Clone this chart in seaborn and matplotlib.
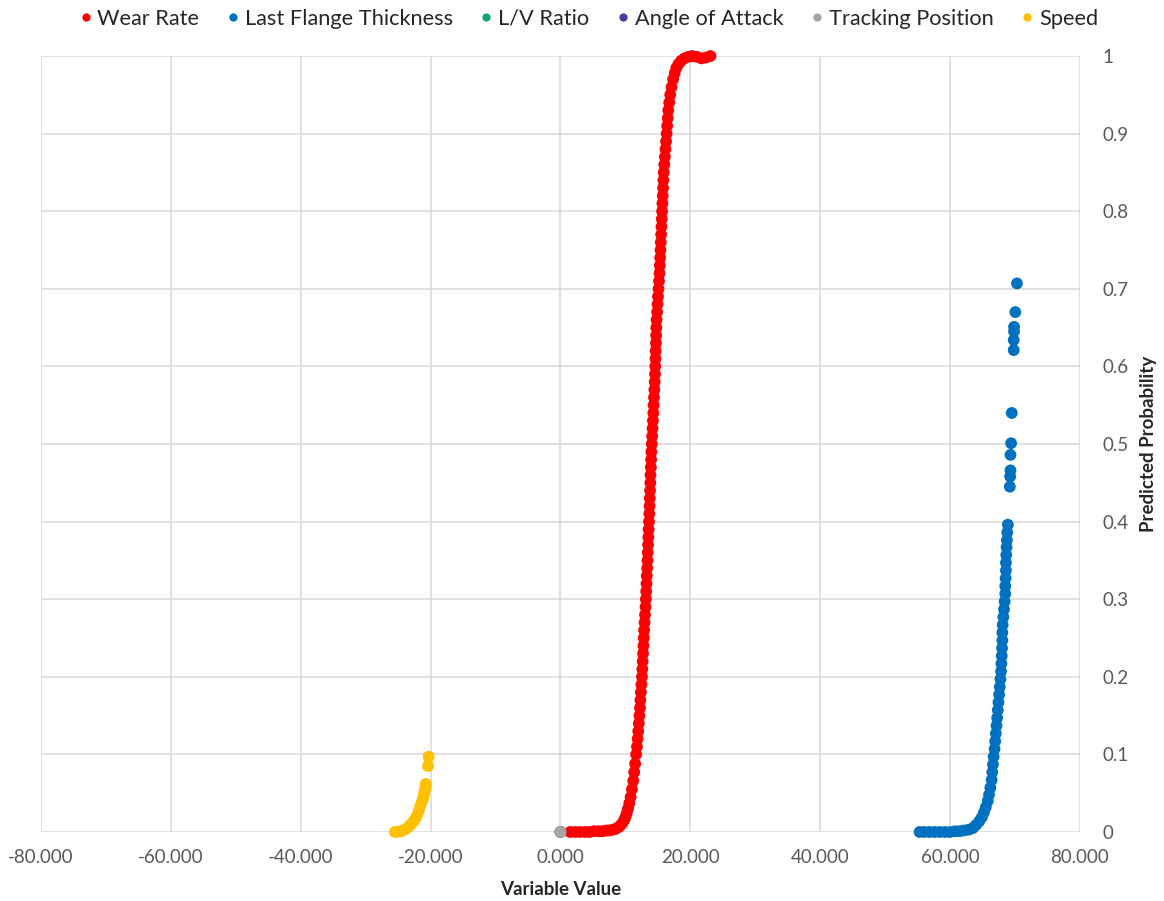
import matplotlib
matplotlib.use("Agg")
import matplotlib.pyplot as plt
import seaborn as sns
import pandas as pd
import numpy as np

# ---------------- data ----------------
series_names = ["Wear Rate", "Last Flange Thickness", "L/V Ratio",
                "Angle of Attack", "Tracking Position", "Speed"]
series_colors = ["#FF0000", "#0070C0", "#13A57A", "#4B3B9C", "#A5A5A5", "#FFC000"]

wear_x = [1.5, 2.3, 3.0, 3.8, 4.5, 5.2, 5.9, 6.5, 7.1, 7.6, 8.1, 8.5, 8.9,
          9.2, 9.5, 9.8, 10.0, 10.2, 10.4, 10.6, 10.8, 11.0, 11.2, 11.35, 11.5,
          11.65, 11.78, 11.88, 11.98, 12.07, 12.16, 12.24, 12.31, 12.38, 12.46,
          12.55, 12.61, 12.66, 12.72, 12.78, 12.83, 12.88, 12.95, 13.02, 13.10,
          13.15, 13.20, 13.25, 13.29, 13.35, 13.40, 13.44, 13.49, 13.53, 13.58,
          13.63, 13.68, 13.72, 13.76, 13.80, 13.84, 13.87, 13.92, 13.96, 14.00,
          14.06, 14.12, 14.18, 14.24, 14.30, 14.35, 14.40, 14.46, 14.51, 14.56,
          14.60, 14.63, 14.66, 14.70, 14.73, 14.76, 14.80, 14.88, 14.95, 15.02,
          15.10, 15.17, 15.25, 15.30, 15.35, 15.40, 15.45, 15.50, 15.55, 15.60,
          15.65, 15.70, 15.75, 15.80, 15.85, 15.90, 15.99, 16.08, 16.17, 16.26,
          16.35, 16.43, 16.51, 16.60, 16.75, 16.90, 17.10, 17.35, 17.60, 17.85,
          18.20, 18.60, 19.10, 19.70, 20.30, 21.00, 21.70, 22.40, 23.10]
wear_y = [0.000, 0.000, 0.000, 0.000, 0.000, 0.001, 0.001, 0.001, 0.002, 0.002, 0.003, 0.004, 0.006,
          0.008, 0.011, 0.015, 0.019, 0.024, 0.030, 0.037, 0.045, 0.055, 0.066, 0.077, 0.088,
          0.10, 0.11, 0.12, 0.13, 0.14, 0.15, 0.16, 0.17, 0.18, 0.19,
          0.20, 0.21, 0.22, 0.23, 0.24, 0.25, 0.26, 0.27, 0.28, 0.29,
          0.30, 0.31, 0.32, 0.33, 0.34, 0.35, 0.36, 0.37, 0.38, 0.39,
          0.40, 0.41, 0.42, 0.43, 0.44, 0.45, 0.46, 0.47, 0.48, 0.49,
          0.50, 0.51, 0.52, 0.53, 0.54, 0.55, 0.56, 0.57, 0.58, 0.59,
          0.60, 0.61, 0.62, 0.63, 0.64, 0.65, 0.66, 0.67, 0.68, 0.69,
          0.70, 0.71, 0.72, 0.73, 0.74, 0.75, 0.76, 0.77, 0.78, 0.79,
          0.80, 0.81, 0.82, 0.83, 0.84, 0.85, 0.86, 0.87, 0.88, 0.89,
          0.90, 0.91, 0.92, 0.93, 0.94, 0.95, 0.96, 0.97, 0.978, 0.985,
          0.990, 0.994, 0.997, 0.999, 1.000, 0.999, 0.997, 0.998, 1.000]

flange_x = [55.3, 56.0, 56.8, 57.6, 58.4, 59.2, 60.0, 60.8, 61.5, 62.2, 62.9, 63.5, 64.0, 64.5,
            64.9, 65.2, 65.5, 65.8, 66.0, 66.2, 66.4, 66.5, 66.6, 66.7, 66.85, 66.95, 67.05,
            67.15, 67.25, 67.35, 67.45, 67.55, 67.65, 67.75, 67.85, 67.9, 67.95, 68.0, 68.05,
            68.05, 68.1, 68.2, 68.3, 68.4, 68.5, 68.5, 68.55, 68.6, 68.6, 68.65, 68.7, 68.75,
            68.8, 68.9, 69.2, 69.25, 69.3, 69.3, 69.4, 69.5, 69.8, 69.8, 69.85, 69.85, 70.05, 70.3]
flange_y = [0.000, 0.000, 0.000, 0.000, 0.000, 0.000, 0.000, 0.001, 0.001, 0.002, 0.003, 0.005, 0.009, 0.014,
            0.019, 0.025, 0.032, 0.040, 0.048, 0.057, 0.067, 0.077, 0.087, 0.097, 0.107, 0.117, 0.127,
            0.137, 0.147, 0.157, 0.167, 0.177, 0.187, 0.197, 0.207, 0.217, 0.227, 0.237, 0.247,
            0.257, 0.267, 0.277, 0.287, 0.297, 0.307, 0.317, 0.327, 0.337, 0.347, 0.357, 0.367, 0.376,
            0.386, 0.396, 0.445, 0.458, 0.466, 0.486, 0.501, 0.540, 0.621, 0.634, 0.645, 0.651, 0.670, 0.707]

lv_x = [0.0]
lv_y = [0.0]
aoa_x = [0.0]
aoa_y = [0.0]
track_x = [0.0]
track_y = [0.0]

speed_x = [-25.5, -25.0, -24.5, -24.0, -23.5, -23.0, -22.6, -22.3, -22.0, -21.8,
           -21.6, -21.4, -21.2, -21.1, -21.0, -20.9, -20.8, -20.75, -20.4, -20.3]
speed_y = [0.000, 0.0005, 0.001, 0.003, 0.006, 0.010, 0.014, 0.018, 0.023, 0.028,
           0.033, 0.038, 0.042, 0.046, 0.050, 0.054, 0.058, 0.062, 0.085, 0.097]

x_ticks = [-80, -60, -40, -20, 0, 20, 40, 60, 80]
y_ticks = [0, 0.1, 0.2, 0.3, 0.4, 0.5, 0.6, 0.7, 0.8, 0.9, 1.0]
y_tick_labels = ["0", "0.1", "0.2", "0.3", "0.4", "0.5", "0.6", "0.7", "0.8", "0.9", "1"]

# ---------------- build table ----------------
xs = [wear_x, flange_x, lv_x, aoa_x, track_x, speed_x]
ys = [wear_y, flange_y, lv_y, aoa_y, track_y, speed_y]
frames = [pd.DataFrame({"Variable Value": x, "Predicted Probability": y, "Series": n})
          for n, x, y in zip(series_names, xs, ys)]
df = pd.concat(frames, ignore_index=True)

# ---------------- style ----------------
sns.set_style("white")
plt.rcParams["font.family"] = ["Lato", "DejaVu Sans"]

fig = plt.figure(figsize=(11.64, 9.01), dpi=100)
ax = fig.add_axes([0.0352, 0.0766, 0.8926, 0.8612])

sns.scatterplot(data=df, x="Variable Value", y="Predicted Probability",
                hue="Series", hue_order=series_names,
                palette=dict(zip(series_names, series_colors)),
                s=72, linewidth=0, ax=ax, zorder=3, legend=True, clip_on=False)

ax.set_xlim(-80, 80)
ax.set_ylim(0, 1)
ax.set_xticks(x_ticks)
ax.set_xticklabels([f"{v:.3f}" for v in x_ticks])
ax.set_yticks(y_ticks)
ax.set_yticklabels(y_tick_labels)
ax.yaxis.tick_right()
ax.yaxis.set_label_position("right")
ax.tick_params(axis="both", length=0, labelsize=13.5, labelcolor="#595959")
ax.tick_params(axis="x", pad=12)
ax.tick_params(axis="y", pad=16)

ax.grid(True, color="#D9D9D9", linewidth=1.1, zorder=0)
ax.set_axisbelow(True)
for sp in ax.spines.values():
    sp.set_visible(False)

ax.set_xlabel("Variable Value", fontsize=13.5, fontweight="bold", labelpad=11)
ax.set_ylabel("Predicted Probability", fontsize=13.5, fontweight="bold", labelpad=8)

sns.move_legend(ax, "center", bbox_to_anchor=(0.5275, 1.048), ncol=6,
                frameon=False, title=None, fontsize=15.7,
                handlelength=0.5, handletextpad=0.3, columnspacing=1.28,
                markerscale=0.7)
for t in ax.get_legend().get_texts():
    t.set_color("#262626")

fig.savefig("out.png", dpi=100)
